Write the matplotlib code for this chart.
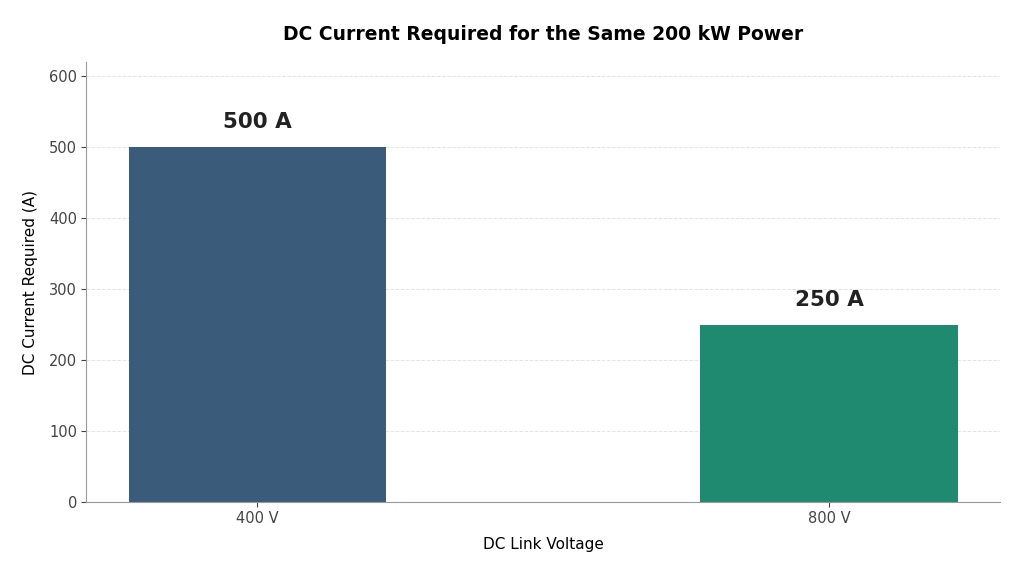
import matplotlib.pyplot as plt

voltages = ["400 V", "800 V"]
currents = [500, 250]
labels = ["500 A", "250 A"]
colors = ["#3b5b7a", "#1f8a70"]

fig = plt.figure(figsize=(10.24, 5.76), dpi=100)
ax = fig.add_axes([0.084, 0.128, 0.893, 0.764])

x = range(len(voltages))
bars = ax.bar(x, currents, width=0.45, color=colors)

for bar, lab in zip(bars, labels):
    ax.text(bar.get_x() + bar.get_width() / 2, bar.get_height() + 21, lab,
            ha="center", va="bottom", fontsize=15.5, fontweight="bold", color="#222222")

ax.set_xticks(list(x))
ax.set_xticklabels(voltages)
ax.set_xlim(-0.3, 1.3)
ax.set_ylim(0, 620)
ax.set_yticks(range(0, 601, 100))
ax.tick_params(colors="#444444", labelsize=10.5, pad=3)
ax.set_xlabel("DC Link Voltage", fontsize=11, labelpad=8)
ax.set_ylabel("DC Current Required (A)", fontsize=11, labelpad=8)
ax.set_title("DC Current Required for the Same 200 kW Power",
             fontsize=13.5, fontweight="bold", pad=16)

ax.grid(axis="y", linestyle="--", color="#dddddd", linewidth=0.7, alpha=0.8)
ax.set_axisbelow(True)
for s in ["top", "right"]:
    ax.spines[s].set_visible(False)
for s in ["left", "bottom"]:
    ax.spines[s].set_color("#999999")

fig.savefig("out.png", dpi=100)
